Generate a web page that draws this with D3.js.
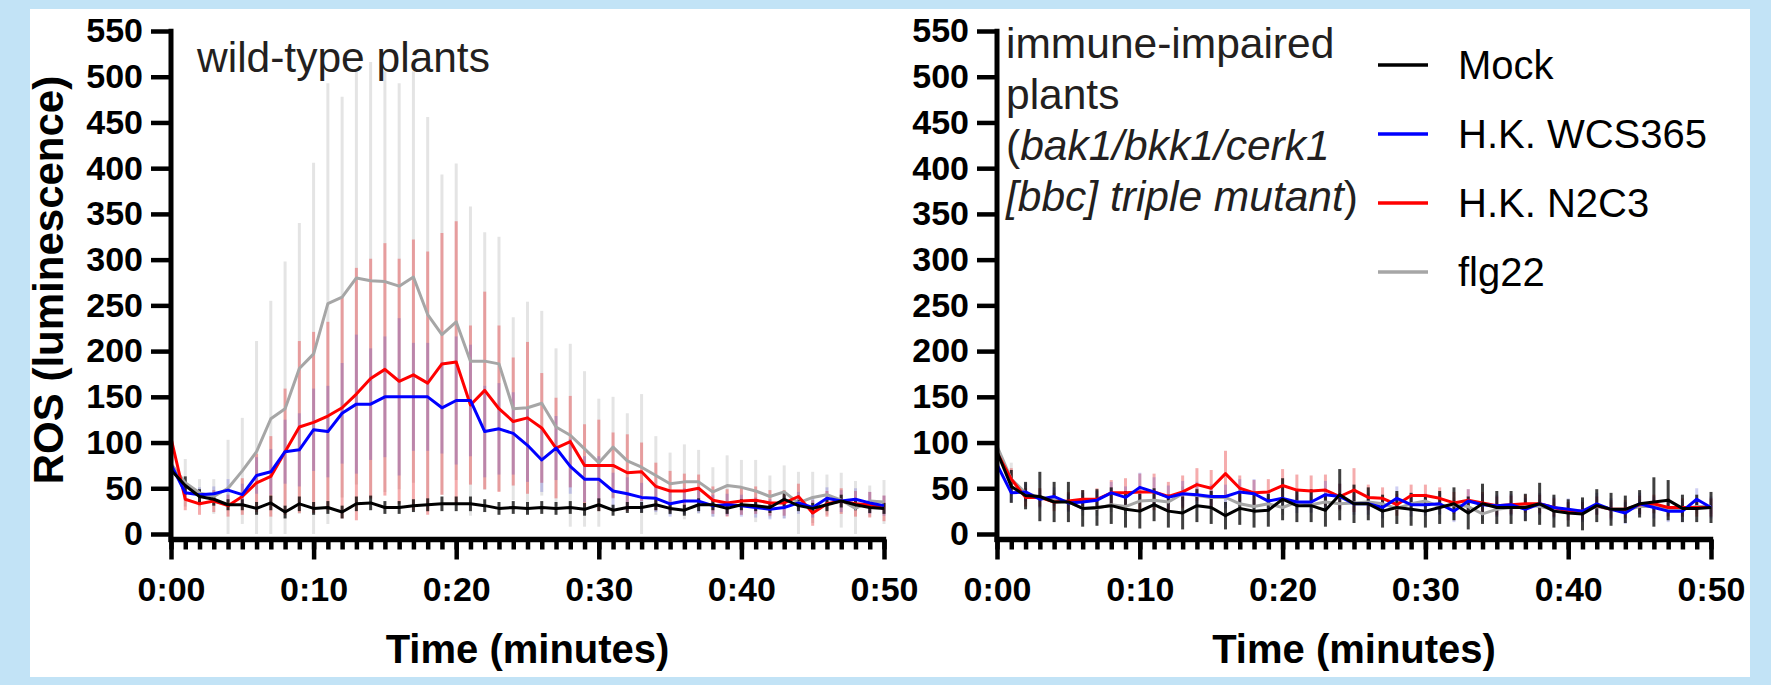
<!DOCTYPE html>
<html>
<head>
<meta charset="utf-8">
<script src="https://cdn.jsdelivr.net/npm/d3@7"></script>
<style>
  body { margin: 0; background: #c2e3f6; }
  svg { display: block; font-family: "Liberation Sans", Arial, sans-serif; }
</style>
</head>
<body>
<svg id="chart" width="1771" height="685"></svg>
<script>
// minutes 0..50, one reading per minute
var minutes = d3.range(0, 51);
var yTicks = d3.range(0, 551, 50);
var xMajorTicks = [0, 10, 20, 30, 40, 50];

var seriesNames = ["Mock", "H.K. WCS365", "H.K. N2C3", "flg22"];

// wild-type plants (mean, SD)
var mockWT = [70,53,41,38,32,32,28,34,24,33, 28,29,24,33,34,29,29,31,32,33, 33,33,31,28,29,28,29,28,29,27, 32, 26,29,29,32,28,26,32,32,28,32,31,29,38,31,28,32,36,32,29,28];
var mockWTsd = [12,10,8,7,6,6,7,8,7,8, 7,7,7,8,8,7,7,7,7,8, 8,8,7,7,7,7,7,7,7,7, 7, 6,6,6,6,6,6,7,6,6,6,6,6,8,6,6,7,7,6,6,6];
var wcsWT = [76,45,43,44,48,43,64,68,90,92, 114,112,132,142,142,150,150,150,150,138, 146,146,112,115,110,97,81,94,74,60, 60, 47,44,40,39,33,36,36,31,32,31,29,27,29,34,29,39,36,38,34,31];
var wcsWTsd = [10,8,8,8,12,12,20,25,35,40, 45,50,55,76,61,66,86,59,59,50, 70,61,50,50,45,40,35,35,30,25, 25, 20,18,16,15,14,14,13,12,12,12,11,11,12,12,11,12,12,12,12,11];
var n2c3WT = [105,38,33,36,31,41,56,63,90,117, 122,129,138,153,170,180,167,174,165,186, 188,141,157,137,123,127,116,94,101,75, 75, 75,67,68,52,47,47,50,37,34,36,37,34,34,41,23,33,36,33,32,28];
var n2c3WTsd = [40,12,12,12,12,20,32,44,69,94, 99,103,121,138,131,138,134,148,144,143, 154,87,108,91,70,83,60,55,50,45, 50, 36,42,32,26,22,19,15,15,15,15,15,14,14,14,14,14,14,14,14,14];
var flgWT = [77,56,45,41,50,69,90,126,137,181, 197,252,259,280,277,276,271,281,240,218, 232,189,189,186,137,138,143,117,108,93, 78, 95,80,73,64,55,57,57,46,53,51,47,41,46,34,40,43,37,28,36,35];
var flgWTsd = [15,26,15,19,53,58,121,129,161,159, 209,241,219,226,239,230,222,225,216,175, 173,169,141,139,100,116,101,86,100,85, 70, 55,52,80,43,34,41,35,27,33,30,34,23,29,34,28,22,30,30,17,24];

// bak1/bkk1/cerk1 triple mutant (mean, SD)
var mockBBC = [90,52,42,41,35,35,28,29,31,27, 25,32,25,23,31,29,20,28,25,26, 38,31,31,26,43,33,33,25,29,27, 25,29,33,23,33,29,29,29,33,25, 23,22,31,27,27,33,35,37,28,28,29];
var mockBBCsd = [10,18,15,27,22,22,20,20,20,20, 19,18,18,18,18,18,15,18,18,18, 23,18,18,18,28,21,18,18,18,18, 18,18,18,18,22,18,18,15,23,18, 15,18,18,18,15,15,27,22,15,15,17];
var wcsBBC = [76,45,46,38,41,34,35,37,45,40, 51,46,40,44,43,41,41,46,44,36, 39,35,35,43,41,33,33,29,39,32, 32,33,25,36,32,31,32,27,33,29, 27,25,33,27,23,33,29,25,25,38,29];
var wcsBBCsd = [12,10,10,10,10,10,10,10,12,12, 16,16,13,14,14,13,13,14,16,12, 12,12,12,15,14,12,12,12,13,13, 12,12,12,13,12,12,12,12,12,12, 12,12,12,12,12,12,12,12,12,12,12];
var n2c3BBC = [89,60,40,40,35,36,38,38,45,45, 46,46,41,46,54,50,66,50,45,46, 53,48,47,48,41,48,40,39,32,42, 42,39,34,37,34,31,32,33,33,29, 25,25,31,27,27,32,33,29,29,29,29];
var n2c3BBCsd = [12,12,10,10,10,10,10,12,14,16, 20,20,16,18,18,20,25,14,14,14, 18,17,17,17,14,24,14,12,12,12, 12,12,12,12,12,10,10,10,10,10, 10,10,10,10,10,10,10,10,10,10,10];
var flgBBC = [96,60,45,40,38,35,28,28,32,30, 36,37,35,44,42,40,40,33,30,33, 29,35,32,35,33,34,35,33,28,33, 36,30,32,30,22,27,29,32,30,27, 26,25,30,27,26,30,30,28,27,30,30];
var flgBBCsd = [10,18,10,10,10,10,8,8,8,8, 8,8,8,8,8,8,8,8,8,8, 8,8,8,8,8,8,8,8,8,8, 8,8,8,8,8,8,8,8,8,8, 8,8,8,8,8,8,8,8,8,8,8];

var
  svg = d3.select("#chart"),
  FONT_AXIS = 34,
  AXIS_COLOR = "#000",
  LINE_COLORS = { mock: "#000000", wcs: "#0000ff", n2c3: "#ff0000", flg: "#a6a6a6" },
  BAR_STYLES = {
    flg: { color: "#e4e4e4", opacity: 1 },
    n2c3: { color: "#e8474a", opacity: 0.45 },
    wcs: { color: "#4040d0", opacity: 0.25 },
    mock: { color: "#000000", opacity: 0.75 }
  };

svg.append("rect").attr("width", 1771).attr("height", 685).attr("fill", "#c2e3f6");
svg.append("rect").attr("x", 30).attr("y", 9).attr("width", 1720).attr("height", 668).attr("fill", "#fff");

var y = d3.scaleLinear().domain([0, 550]).range([534, 31]);

function timeLabel(t){
  return "0:" + (t < 10 ? "0" + t : t);
}

function drawPanel(x0, x1, series){
  var
    x = d3.scaleLinear().domain([0, 50]).range([x0, x1]),
    axisY = y(0) + 5.5,
    g = svg.append("g");

  // error bars, bottom layer first
  series.forEach(function(s){
    var st = BAR_STYLES[s.key];
    g.append("g").selectAll("line").data(minutes).join("line")
      .attr("x1", function(t){ return x(t); })
      .attr("x2", function(t){ return x(t); })
      .attr("y1", function(t){ return Math.min(y(Math.max(0, s.mean[t] - s.sd[t])), axisY); })
      .attr("y2", function(t){ return y(Math.min(550, s.mean[t] + s.sd[t])); })
      .attr("stroke", st.color)
      .attr("stroke-opacity", st.opacity)
      .attr("stroke-width", 3);
  });

  var line = d3.line()
    .x(function(d, i){ return x(i); })
    .y(function(d){ return y(d); });

  series.forEach(function(s){
    g.append("path")
      .attr("d", line(s.mean))
      .attr("fill", "none")
      .attr("stroke", LINE_COLORS[s.key])
      .attr("stroke-width", 3)
      .attr("stroke-linejoin", "round");
  });

  // y axis
  var yAxis = d3.axisLeft(y).tickValues(yTicks).tickSize(20).tickPadding(8).tickSizeOuter(0);
  var gy = svg.append("g").attr("transform", "translate(" + x0 + ",0)").call(yAxis);
  gy.select(".domain").remove();
  gy.selectAll(".tick line").attr("stroke", AXIS_COLOR).attr("stroke-width", 4.5);
  gy.selectAll(".tick text")
    .attr("fill", "#000")
    .style("font-size", FONT_AXIS + "px")
    .style("font-weight", "bold");

  // x axis: minor then major ticks
  var xMinor = d3.axisBottom(x).tickValues(minutes).tickSize(10).tickFormat("").tickSizeOuter(0);
  var gxm = svg.append("g").attr("transform", "translate(0," + axisY + ")").call(xMinor);
  gxm.select(".domain").remove();
  gxm.selectAll(".tick line").attr("stroke", AXIS_COLOR).attr("stroke-width", 4.5);

  var xMajor = d3.axisBottom(x).tickValues(xMajorTicks).tickSize(20).tickPadding(17)
    .tickFormat(timeLabel).tickSizeOuter(0);
  var gx = svg.append("g").attr("transform", "translate(0," + axisY + ")").call(xMajor);
  gx.select(".domain").remove();
  gx.selectAll(".tick line").attr("stroke", AXIS_COLOR).attr("stroke-width", 4.5);
  gx.selectAll(".tick text")
    .attr("fill", "#000")
    .style("font-size", FONT_AXIS + "px")
    .style("font-weight", "bold");

  // axis lines
  svg.append("line")
    .attr("x1", x0).attr("x2", x0)
    .attr("y1", y(550) - 2.2).attr("y2", axisY + 2.5)
    .attr("stroke", AXIS_COLOR).attr("stroke-width", 5);
  svg.append("line")
    .attr("x1", x0 - 2.5).attr("x2", x1 + 2.2)
    .attr("y1", axisY).attr("y2", axisY)
    .attr("stroke", AXIS_COLOR).attr("stroke-width", 5.5);

  svg.append("text")
    .attr("x", (x0 + x1) / 2)
    .attr("y", 663)
    .attr("text-anchor", "middle")
    .style("font-size", "40px")
    .style("font-weight", "bold")
    .text("Time (minutes)");

  return x;
}

drawPanel(171, 884, [
  { key: "flg", mean: flgWT, sd: flgWTsd },
  { key: "n2c3", mean: n2c3WT, sd: n2c3WTsd },
  { key: "wcs", mean: wcsWT, sd: wcsWTsd },
  { key: "mock", mean: mockWT, sd: mockWTsd }
]);

drawPanel(997, 1711, [
  { key: "flg", mean: flgBBC, sd: flgBBCsd },
  { key: "n2c3", mean: n2c3BBC, sd: n2c3BBCsd },
  { key: "wcs", mean: wcsBBC, sd: wcsBBCsd },
  { key: "mock", mean: mockBBC, sd: mockBBCsd }
]);

// y axis title
svg.append("text")
  .attr("transform", "translate(63,280) rotate(-90)")
  .attr("text-anchor", "middle")
  .style("font-size", "42px")
  .style("font-weight", "bold")
  .text("ROS (luminescence)");

// panel notes
svg.append("text")
  .attr("x", 197).attr("y", 72)
  .attr("fill", "#231f20")
  .style("font-size", "42.5px")
  .text("wild-type plants");

var note = svg.append("text")
  .attr("fill", "#231f20")
  .style("font-size", "42.5px");
note.append("tspan").attr("x", 1006).attr("y", 58).text("immune-impaired");
note.append("tspan").attr("x", 1006).attr("y", 109).text("plants");
var l3 = note.append("tspan").attr("x", 1006).attr("y", 160);
l3.append("tspan").text("(");
l3.append("tspan").style("font-style", "italic").text("bak1/bkk1/cerk1");
var l4 = note.append("tspan").attr("x", 1006).attr("y", 211);
l4.append("tspan").style("font-style", "italic").text("[bbc] triple mutant");
l4.append("tspan").text(")");

// legend
var legendKeys = ["mock", "wcs", "n2c3", "flg"];
var legendY = d3.scalePoint().domain(legendKeys).range([65, 272]);
var legend = svg.append("g").selectAll("g").data(legendKeys).join("g")
  .attr("transform", function(k){ return "translate(1378," + legendY(k) + ")"; });
legend.append("line")
  .attr("x1", 0).attr("x2", 50)
  .attr("stroke", function(k){ return LINE_COLORS[k]; })
  .attr("stroke-width", 3.5);
legend.append("text")
  .attr("x", 80)
  .attr("dy", "0.36em")
  .style("font-size", "40px")
  .text(function(k, i){ return seriesNames[i]; });
</script>
</body>
</html>
